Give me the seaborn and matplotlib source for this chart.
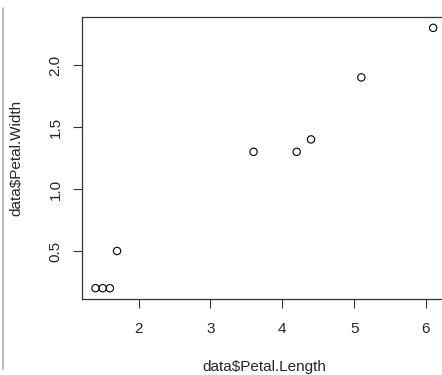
import matplotlib
matplotlib.use('Agg')
import matplotlib.pyplot as plt
import seaborn as sns
import pandas as pd
from matplotlib.lines import Line2D

petal_length = [1.4, 1.5, 1.6, 1.7, 3.6, 4.2, 4.4, 5.1, 6.1]
petal_width = [0.2, 0.2, 0.2, 0.5, 1.3, 1.3, 1.4, 1.9, 2.3]
x_ticks = [2, 3, 4, 5, 6]
y_ticks = [0.5, 1.0, 1.5, 2.0]

df = pd.DataFrame({'Petal.Length': petal_length, 'Petal.Width': petal_width})

sns.set_theme(style="white")
plt.rcParams['font.family'] = ['Liberation Sans', 'DejaVu Sans']

fig = plt.figure(figsize=(4.42, 3.75), dpi=100)
ax = fig.add_axes([0.1855, 0.2037, 0.8251, 0.7499])

sns.scatterplot(data=df, x='Petal.Length', y='Petal.Width', ax=ax,
                marker='o', s=28, facecolor='none', edgecolor='black', linewidth=0.8)

# R-style 4% padding around the data range
xr = max(petal_length) - min(petal_length)
yr = max(petal_width) - min(petal_width)
ax.set_xlim(min(petal_length) - 0.04 * xr, max(petal_length) + 0.04 * xr)
ax.set_ylim(min(petal_width) - 0.04 * yr, max(petal_width) + 0.04 * yr)

ax.set_xticks(x_ticks)
ax.set_xticklabels([str(t) for t in x_ticks])
ax.set_yticks(y_ticks)
ax.set_yticklabels([f"{t:.1f}" for t in y_ticks], rotation=90, va='center')

ax.tick_params(axis='both', direction='out', length=6.5, width=0.8, color='#333333',
               labelsize=11, bottom=True, left=True)
ax.tick_params(axis='x', pad=10.5)
ax.tick_params(axis='y', pad=7.5)
for s in ax.spines.values():
    s.set_color('#333333')
    s.set_linewidth(0.9)

ax.set_xlabel("data$Petal.Length", fontsize=11, labelpad=17)
ax.set_ylabel("data$Petal.Width", fontsize=11, labelpad=18)

fig.add_artist(Line2D([0.007, 0.007], [0.015, 0.978], color='#aaaaaa', linewidth=1.2,
                      transform=fig.transFigure))

fig.savefig("out.png", dpi=100)
plt.close(fig)
